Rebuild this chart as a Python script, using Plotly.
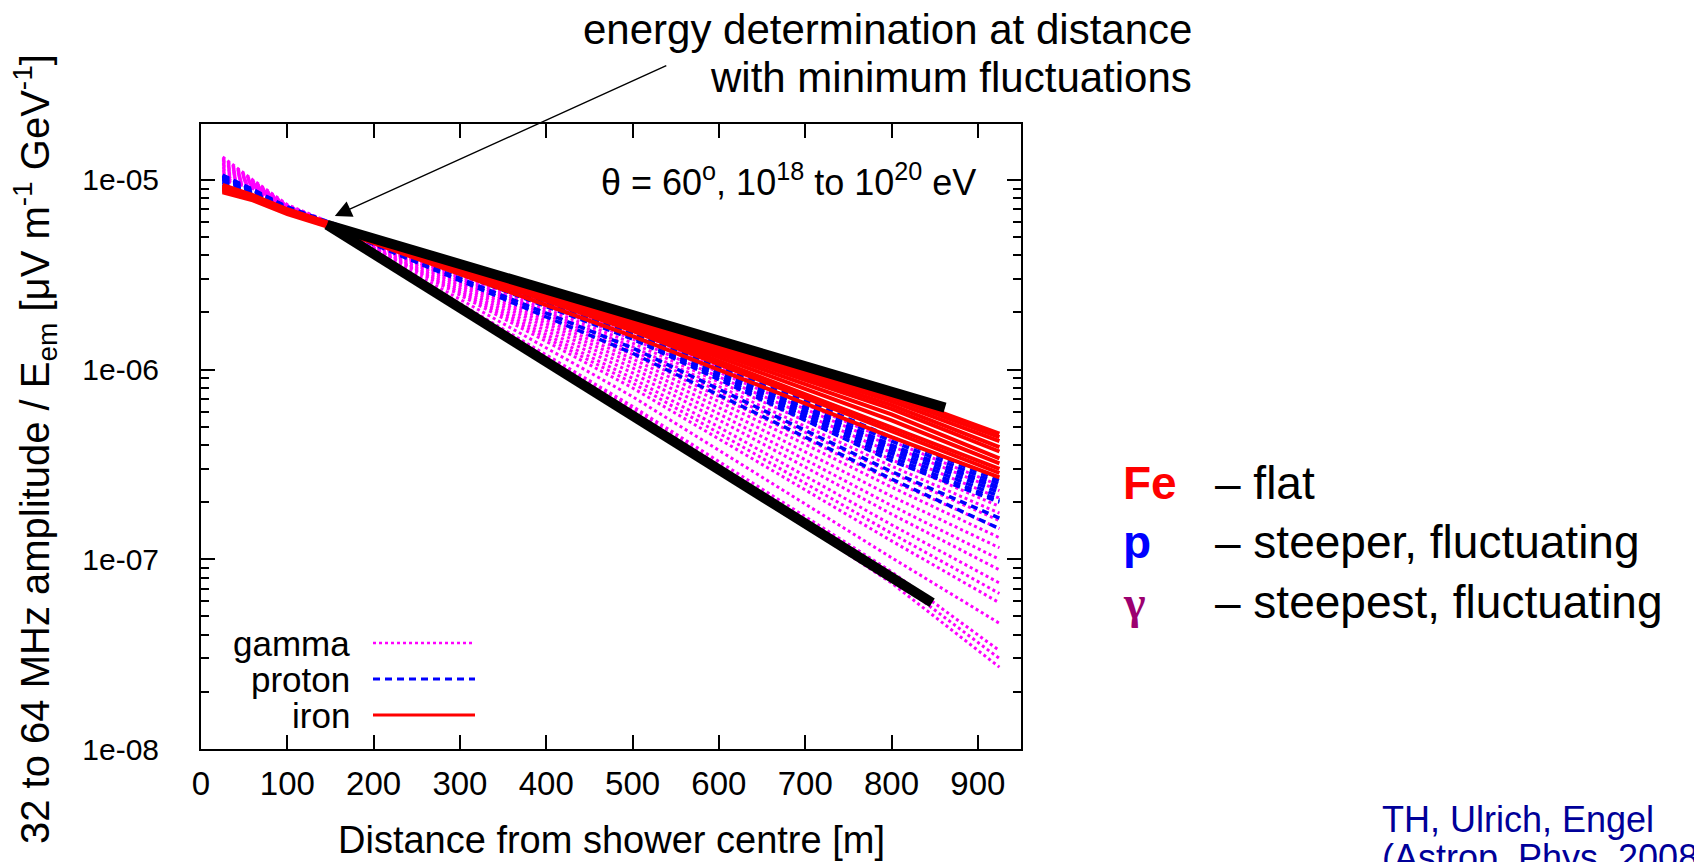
import math
import plotly.graph_objects as go

# Distances from shower centre [m] at which each simulated profile is tabulated
distance_m = [25, 60, 100, 150, 500, 800, 925]

# Radio amplitude / E_em for each shower, one list per distance (same curve order in every list)
gamma_25 = [1.32e-5, 1.30e-5, 1.28e-5, 1.26e-5, 1.24e-5, 1.22e-5, 1.20e-5, 1.18e-5, 1.16e-5,
            1.14e-5, 1.12e-5, 1.10e-5, 1.08e-5, 1.06e-5, 1.05e-5, 1.03e-5, 1.02e-5, 1.00e-5]
gamma_60 = [1.00e-5, 9.9e-6, 9.8e-6, 9.75e-6, 9.7e-6, 9.6e-6, 9.55e-6, 9.5e-6, 9.45e-6,
            9.4e-6, 9.35e-6, 9.3e-6, 9.25e-6, 9.2e-6, 9.15e-6, 9.1e-6, 9.05e-6, 9.0e-6]
gamma_100 = [7.4e-6, 7.35e-6, 7.3e-6, 7.3e-6, 7.25e-6, 7.2e-6, 7.2e-6, 7.15e-6, 7.15e-6,
             7.1e-6, 7.1e-6, 7.05e-6, 7.05e-6, 7.0e-6, 7.0e-6, 7.0e-6, 6.95e-6, 6.9e-6]
gamma_150 = [5.95e-6, 5.9e-6, 5.9e-6, 5.85e-6, 5.85e-6, 5.85e-6, 5.8e-6, 5.8e-6, 5.8e-6,
             5.8e-6, 5.75e-6, 5.75e-6, 5.75e-6, 5.75e-6, 5.7e-6, 5.7e-6, 5.7e-6, 5.7e-6]
gamma_500 = [1.60e-6, 1.52e-6, 1.45e-6, 1.38e-6, 1.32e-6, 1.26e-6, 1.20e-6, 1.14e-6, 1.08e-6,
             1.02e-6, 9.6e-7, 9.0e-7, 8.5e-7, 8.0e-7, 7.2e-7, 6.4e-7, 6.2e-7, 6.0e-7]
gamma_800 = [4.2e-7, 3.95e-7, 3.65e-7, 3.35e-7, 3.1e-7, 2.85e-7, 2.6e-7, 2.4e-7, 2.15e-7,
             1.92e-7, 1.73e-7, 1.52e-7, 1.37e-7, 1.25e-7, 1.02e-7, 8.6e-8, 8.0e-8, 7.5e-8]
gamma_925 = [2.45e-7, 2.3e-7, 2.1e-7, 1.9e-7, 1.75e-7, 1.6e-7, 1.45e-7, 1.3e-7, 1.15e-7,
             1.0e-7, 8.8e-8, 7.5e-8, 6.6e-8, 5.9e-8, 4.6e-8, 3.3e-8, 3.0e-8, 2.7e-8]

proton_25 = [1.06e-5, 1.05e-5, 1.04e-5, 1.03e-5, 1.02e-5, 1.01e-5, 1.00e-5, 9.8e-6, 9.7e-6, 9.5e-6]
proton_60 = [8.9e-6, 8.85e-6, 8.8e-6, 8.75e-6, 8.7e-6, 8.65e-6, 8.6e-6, 8.55e-6, 8.5e-6, 8.4e-6]
proton_100 = [7.2e-6, 7.15e-6, 7.1e-6, 7.05e-6, 7.0e-6, 6.95e-6, 6.9e-6, 6.85e-6, 6.8e-6, 6.75e-6]
proton_150 = [5.95e-6, 5.9e-6, 5.9e-6, 5.85e-6, 5.85e-6, 5.8e-6, 5.8e-6, 5.75e-6, 5.7e-6, 5.7e-6]
proton_500 = [1.70e-6, 1.65e-6, 1.62e-6, 1.58e-6, 1.55e-6, 1.52e-6, 1.48e-6, 1.45e-6, 1.30e-6, 1.22e-6]
proton_800 = [4.4e-7, 4.2e-7, 4.0e-7, 3.9e-7, 3.75e-7, 3.6e-7, 3.45e-7, 3.3e-7, 2.9e-7, 2.65e-7]
proton_925 = [2.6e-7, 2.5e-7, 2.4e-7, 2.35e-7, 2.25e-7, 2.15e-7, 2.05e-7, 2.0e-7, 1.65e-7, 1.45e-7]

iron_25 = [9.4e-6, 9.3e-6, 9.2e-6, 9.1e-6, 9.0e-6, 8.95e-6, 8.9e-6, 8.8e-6, 8.7e-6, 8.6e-6]
iron_60 = [8.3e-6, 8.25e-6, 8.2e-6, 8.15e-6, 8.1e-6, 8.05e-6, 8.0e-6, 7.95e-6, 7.9e-6, 7.8e-6]
iron_100 = [7.0e-6, 6.95e-6, 6.95e-6, 6.9e-6, 6.9e-6, 6.85e-6, 6.8e-6, 6.75e-6, 6.7e-6, 6.6e-6]
iron_150 = [5.9e-6, 5.85e-6, 5.85e-6, 5.8e-6, 5.8e-6, 5.75e-6, 5.75e-6, 5.7e-6, 5.7e-6, 5.6e-6]
iron_500 = [1.9e-6, 1.87e-6, 1.84e-6, 1.8e-6, 1.77e-6, 1.74e-6, 1.7e-6, 1.66e-6, 1.6e-6, 1.5e-6]
iron_800 = [7.4e-7, 7.1e-7, 6.8e-7, 6.5e-7, 6.2e-7, 5.8e-7, 5.4e-7, 5.0e-7, 4.7e-7, 4.4e-7]
iron_925 = [4.6e-7, 4.4e-7, 4.2e-7, 3.9e-7, 3.7e-7, 3.4e-7, 3.2e-7, 3.0e-7, 2.85e-7, 2.7e-7]

# Hand-drawn guide lines marking the flattest and steepest fall-off
guide_x = [[146, 862], [146, 847]]
guide_y = [[5.8e-6, 6.3e-7], [5.8e-6, 5.9e-8]]

# Axis ticks
x_ticks = [0, 100, 200, 300, 400, 500, 600, 700, 800, 900]
y_ticks = [1e-8, 1e-7, 1e-6, 1e-5]
y_tick_text = ["1e-08", "1e-07", "1e-06", "1e-05"]

FONT = "Liberation Sans, Arial, Helvetica, sans-serif"
SERIF = "Liberation Serif, Times New Roman, serif"
MAGENTA, BLUE, RED = "#ff00ff", "#0000ff", "#ff0000"

# Plot-area placement in the 1694x862 page
FIG_W, FIG_H = 1694, 862
L, R, T, B = 201, 1021, 124, 749
PW, PH = R - L, B - T


def px_x(px):
    return (px - L) / PW


def px_y(py):
    return (B - py) / PH


families = [
    ("gamma", [gamma_25, gamma_60, gamma_100, gamma_150, gamma_500, gamma_800, gamma_925],
     dict(color=MAGENTA, width=3, dash="3px,3px")),
    ("proton", [proton_25, proton_60, proton_100, proton_150, proton_500, proton_800, proton_925],
     dict(color=BLUE, width=3.5, dash="7px,5px")),
    ("iron", [iron_25, iron_60, iron_100, iron_150, iron_500, iron_800, iron_925],
     dict(color=RED, width=4, dash="solid")),
]

fig = go.Figure()
for name, columns, line in families:
    for curve in zip(*columns):
        fig.add_trace(go.Scatter(x=distance_m, y=list(curve), mode="lines",
                                 line=line, name=name, showlegend=False,
                                 hoverinfo="skip"))

for gx, gy in zip(guide_x, guide_y):
    fig.add_trace(go.Scatter(x=gx, y=gy, mode="lines",
                             line=dict(color="black", width=10),
                             showlegend=False, hoverinfo="skip"))

minor_vals = [m * 10 ** e for e in range(-8, -4) for m in range(2, 10)]

axis_common = dict(showline=True, linecolor="black", linewidth=2, mirror="allticks",
                   ticks="inside", ticklen=14, tickwidth=2, tickcolor="black",
                   showgrid=False, zeroline=False)

fig.update_xaxes(range=[0, 950], tickvals=x_ticks, ticklabelstandoff=4,
                 tickfont=dict(family=FONT, size=33, color="black"), **axis_common)
fig.update_yaxes(type="log", range=[-8, math.log10(1.97e-5)], tickvals=y_ticks,
                 ticktext=y_tick_text, ticklabelstandoff=34,
                 tickfont=dict(family=FONT, size=30, color="black"),
                 minor=dict(tickvals=minor_vals, ticks="inside", ticklen=8,
                            tickwidth=2, tickcolor="black", showgrid=False),
                 **axis_common)

annotations = [
    # axis titles
    dict(text="Distance from shower centre [m]", x=0.5, y=px_y(840),
         xanchor="center", yanchor="middle", font=dict(size=38)),
    dict(text="32 to 64 MHz amplitude / E<sub>em</sub> [μV m<sup>-1</sup> GeV<sup>-1</sup>]",
         x=px_x(35), y=px_y(449), textangle=-90, xanchor="center", yanchor="middle",
         font=dict(size=40)),
    # in-plot key
    dict(text="θ = 60<sup>o</sup>, 10<sup>18</sup> to 10<sup>20</sup> eV",
         x=px_x(978), y=px_y(180), xanchor="right", yanchor="middle", font=dict(size=36)),
    # note above the plot
    dict(text="energy determination at distance", x=px_x(1194), y=px_y(29),
         xanchor="right", yanchor="middle", font=dict(size=42)),
    dict(text="with minimum fluctuations", x=px_x(1194), y=px_y(78),
         xanchor="right", yanchor="middle", font=dict(size=42)),
    # arrow pointing to the crossing point
    dict(text="", x=155, y=math.log10(6.45e-6), xref="x", yref="y",
         ax=333, ay=-151, axref="pixel", ayref="pixel", showarrow=True,
         arrowhead=2, arrowsize=2.4, arrowwidth=1.4, arrowcolor="black"),
    # citation
    dict(text="TH, Ulrich, Engel", x=px_x(1380), y=px_y(819), xanchor="left",
         yanchor="middle", font=dict(size=36, color="#000099")),
    dict(text="(Astrop. Phys. 2008)", x=px_x(1380), y=px_y(858), xanchor="left",
         yanchor="middle", font=dict(size=36, color="#000099")),
]

# Composition summary beside the plot
summary = [("Fe", RED, FONT, "– flat", 483),
           ("p", BLUE, FONT, "– steeper, fluctuating", 542),
           ("γ", "#9c0070", SERIF, "– steepest, fluctuating", 602)]
for sym, col, fam, desc, py in summary:
    annotations.append(dict(text=f"<b>{sym}</b>", x=px_x(1121), y=px_y(py), xanchor="left",
                            yanchor="middle", font=dict(size=46, color=col, family=fam)))
    annotations.append(dict(text=desc, x=px_x(1213), y=px_y(py), xanchor="left",
                            yanchor="middle", font=dict(size=46, color="black")))

# Legend drawn gnuplot-style: label on the left, line sample on the right
legend_rows = [("gamma", MAGENTA, "3px,3px", 2.5, 643),
               ("proton", BLUE, "7px,5px", 3, 679),
               ("iron", RED, "solid", 3, 715)]
shapes = []
for label, col, dash, w, py in legend_rows:
    annotations.append(dict(text=label, x=px_x(352), y=px_y(py), xanchor="right",
                            yanchor="middle", font=dict(size=35)))
    shapes.append(dict(type="line", xref="paper", yref="paper",
                       x0=px_x(373), x1=px_x(475), y0=px_y(py), y1=px_y(py),
                       line=dict(color=col, width=w, dash=dash)))

for a in annotations:
    a.setdefault("xref", "paper")
    a.setdefault("yref", "paper")
    a.setdefault("showarrow", False)
    f = a.setdefault("font", {})
    f.setdefault("family", FONT)
    f.setdefault("color", "black")

fig.update_layout(
    width=FIG_W, height=FIG_H,
    margin=dict(l=L, r=FIG_W - R, t=T, b=FIG_H - B, pad=0),
    paper_bgcolor="white", plot_bgcolor="white",
    font=dict(family=FONT, color="black"),
    showlegend=False,
    annotations=annotations,
    shapes=shapes,
)

fig.write_html("out.html")
